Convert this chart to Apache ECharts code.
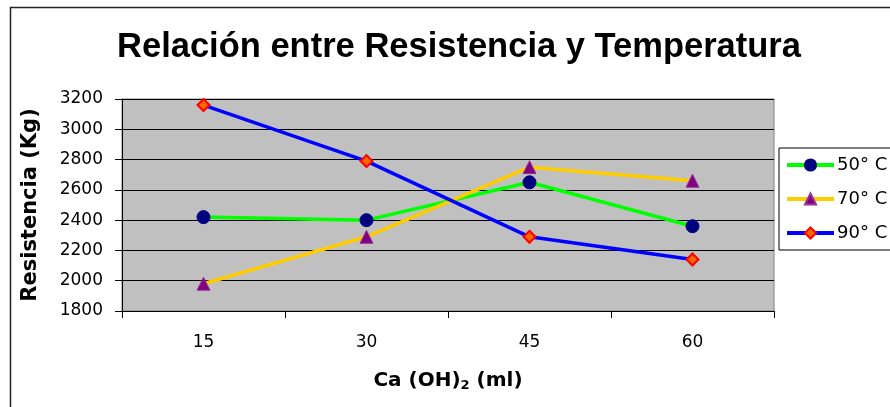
<!DOCTYPE html>
<html><head><meta charset="utf-8">
<script src="https://cdn.jsdelivr.net/npm/echarts@6/dist/echarts.min.js"></script>
<style>html,body{margin:0;padding:0;background:#fff}#c{width:890px;height:407px}</style>
</head><body><div id="c"></div>
<script>
const categories = ['15', '30', '45', '60'];
const seriesNames = ['50° C', '70° C', '90° C'];
const s50 = [2420, 2400, 2650, 2360];
const s70 = [1980, 2290, 2750, 2660];
const s90 = [3160, 2790, 2290, 2140];
const yTicks = [1800, 2000, 2200, 2400, 2600, 2800, 3000, 3200];

const FONT = '"Liberation Sans", Arial, sans-serif';
const WIDE = '"DejaVu Sans", sans-serif';
const chart = echarts.init(document.getElementById('c'), null, {renderer: 'canvas'});
chart.setOption({
  backgroundColor: '#fff',
  animation: false,
  graphic: [{type: 'rect', shape: {x: 10.5, y: 7.5, width: 900, height: 420}, style: {fill: 'none', stroke: '#222', lineWidth: 1.5}, silent: true}],
  title: {text: 'Relación entre Resistencia y Temperatura', left: 454, textAlign: 'center', top: 25,
    textStyle: {fontFamily: FONT, fontWeight: 'bold', fontSize: 34.5, color: '#000'}},
  grid: {left: 122, top: 99, right: 116, bottom: 96, show: true, backgroundColor: '#C0C0C0', borderColor: '#808080', borderWidth: 1},
  legend: {
    data: seriesNames, orient: 'vertical', left: 779, top: 148, width: 120,
    borderColor: '#000', borderWidth: 1, padding: [8, 40, 8, 6],
    itemWidth: 47, itemHeight: 14, itemGap: 16,
    lineStyle: {width: 4},
    textStyle: {fontFamily: WIDE, fontSize: 18, color: '#000', padding: [0, 0, 0, -2]}
  },
  xAxis: {
    type: 'category', data: categories, boundaryGap: true,
    name: '{a|Ca (OH)}{s|2}{a| (ml)}', nameLocation: 'middle', nameGap: 58,
    nameTextStyle: {rich: {
      a: {fontFamily: WIDE, fontWeight: 'bold', fontSize: 20, color: '#000'},
      s: {fontFamily: WIDE, fontWeight: 'bold', fontSize: 13, color: '#000', padding: [10, 0, 0, 0]}
    }},
    axisLine: {lineStyle: {color: '#000', width: 1}},
    axisTick: {show: true, length: 7, inside: false, lineStyle: {color: '#000'}},
    axisLabel: {fontFamily: WIDE, fontSize: 17, color: '#000', margin: 23},
    splitLine: {show: false}
  },
  yAxis: {
    type: 'value', min: 1800, max: 3200, interval: 200,
    name: 'Resistencia (Kg)', nameLocation: 'middle', nameGap: 81,
    nameTextStyle: {fontFamily: WIDE, fontWeight: 'bold', fontSize: 21, color: '#000'},
    axisLine: {show: true, lineStyle: {color: '#000', width: 1}},
    axisTick: {show: true, length: 7, lineStyle: {color: '#000'}},
    axisLabel: {fontFamily: WIDE, fontSize: 17, color: '#000', margin: 19,
      formatter: v => yTicks.includes(v) ? String(v) : ''},
    splitLine: {show: true, lineStyle: {color: '#000', width: 1}}
  },
  series: [
    {name: seriesNames[0], type: 'line', data: s50, symbol: 'circle', symbolSize: 13,
      lineStyle: {color: '#00FF00', width: 3.5}, itemStyle: {color: '#000080', borderColor: '#000080', borderWidth: 1}},
    {name: seriesNames[1], type: 'line', data: s70, symbol: 'triangle', symbolSize: 13,
      lineStyle: {color: '#FFCC00', width: 3.5}, itemStyle: {color: '#800080', borderColor: '#993399', borderWidth: 1}},
    {name: seriesNames[2], type: 'line', data: s90, symbol: 'diamond', symbolSize: 12,
      lineStyle: {color: '#0000FF', width: 3.5}, itemStyle: {color: '#FF6600', borderColor: '#FF0000', borderWidth: 2}}
  ]
});
</script></body></html>
